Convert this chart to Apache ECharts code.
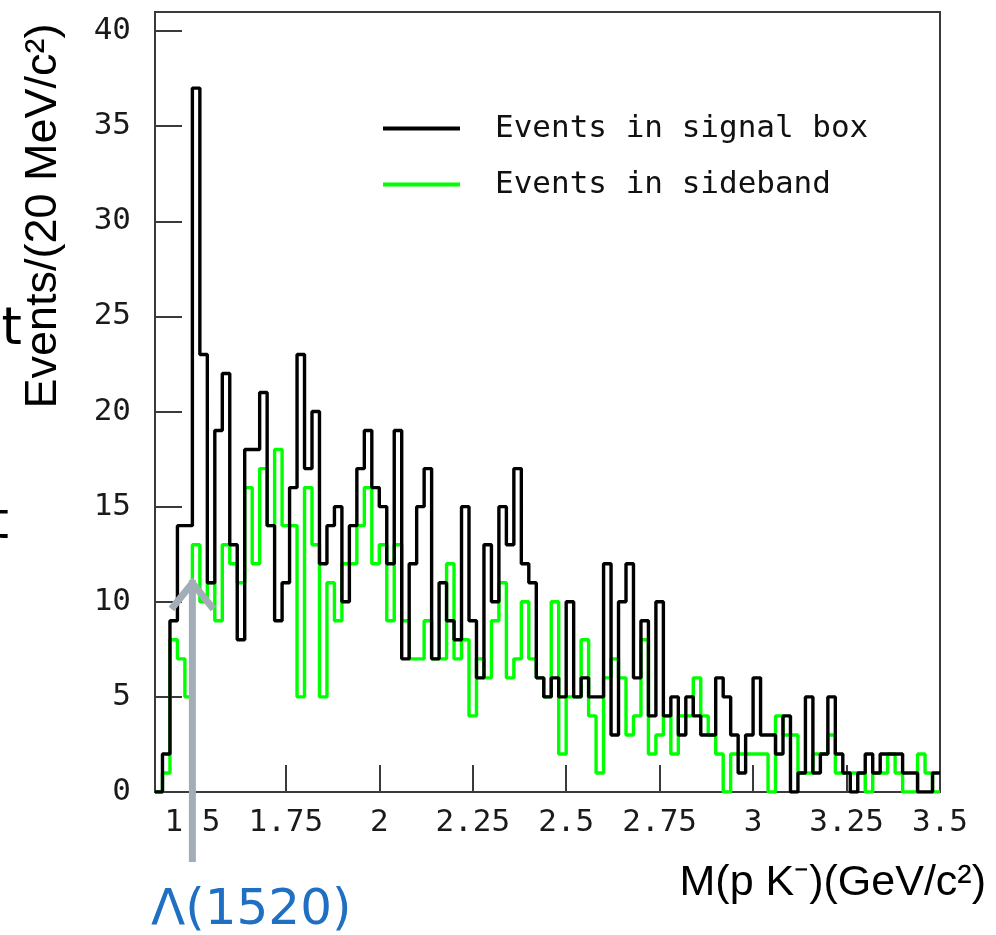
<!DOCTYPE html>
<html>
<head>
<meta charset="utf-8">
<script src="https://cdn.jsdelivr.net/npm/echarts@6/dist/echarts.min.js"></script>
<style>
  html, body { margin: 0; padding: 0; background: #ffffff; }
  #chart { width: 996px; height: 935px; }
</style>
</head>
<body>
<div id="chart"></div>
<script>
// M(pK-) histogram, 20 MeV bins from 1.40 to 3.50 GeV/c^2
const massLow = 1.40;
const massHigh = 3.50;
const binWidth = 0.02;

// Counts per bin, events in the signal box
const signalBox = [
  0, 2, 9, 14, 14, 37, 23, 11, 19, 22,
  13, 8, 18, 18, 21, 14, 9, 11, 16, 23,
  17, 20, 12, 14, 15, 10, 14, 17, 19, 16,
  15, 12, 19, 7, 12, 15, 17, 7, 11, 9,
  8, 15, 9, 6, 13, 10, 15, 13, 17, 12,
  11, 6, 5, 6, 5, 10, 5, 6, 5, 5,
  12, 3, 10, 12, 6, 9, 4, 10, 4, 5,
  3, 5, 4, 3, 3, 6, 5, 3, 1, 3,
  6, 3, 3, 2, 4, 0, 1, 5, 1, 2,
  5, 2, 1, 0, 1, 2, 1, 2, 2, 2,
  1, 1, 0, 0, 1
];

// Counts per bin, events in the sideband
const sideband = [
  0, 1, 8, 7, 5, 13, 10, 11, 9, 13,
  12, 11, 16, 12, 17, 14, 18, 14, 14, 5,
  16, 13, 5, 11, 9, 12, 12, 14, 16, 12,
  13, 9, 13, 9, 7, 7, 9, 7, 7, 12,
  7, 8, 4, 7, 6, 9, 11, 6, 7, 10,
  7, 6, 5, 10, 2, 5, 5, 8, 4, 1,
  6, 7, 6, 3, 4, 8, 2, 3, 4, 2,
  4, 4, 6, 4, 3, 2, 0, 2, 2, 2,
  2, 2, 0, 4, 3, 3, 1, 1, 2, 2,
  3, 1, 1, 1, 1, 0, 1, 1, 2, 1,
  0, 0, 2, 1, 0
];

const xTickValues = [1.5, 1.75, 2, 2.25, 2.5, 2.75, 3, 3.25, 3.5];
const yTickValues = [0, 5, 10, 15, 20, 25, 30, 35, 40];
const yMax = 41;

const seriesNames = ['Events in signal box', 'Events in sideband'];
const xTitle = 'M(p K\u207B)(GeV/c\u00B2)';
const yTitle = 'Events/(20 MeV/c\u00B2)';
const markerLabel = '\u039B(1520)';
const markerMass = 1.5;

// Turn bin counts into step-line vertices at the bin edges
function histogramSteps(counts) {
  const pts = counts.map((c, i) => [Math.round((massLow + i * binWidth) * 1000) / 1000, c]);
  pts.push([massHigh, counts[counts.length - 1]]);
  return pts;
}

const monoFont = "'DejaVu Sans Mono', 'Liberation Mono', monospace";
const sansFont = "'Liberation Sans', Arial, sans-serif";

const chart = echarts.init(document.getElementById('chart'), null, { renderer: 'canvas' });

const option = {
  animation: false,
  backgroundColor: '#ffffff',
  grid: {
    left: 155, right: 56, top: 12, bottom: 143,
    show: true, borderColor: '#3a3a3a', borderWidth: 2,
    backgroundColor: 'transparent'
  },
  legend: {
    left: 378, top: 108,
    orient: 'vertical',
    icon: 'rect',
    itemWidth: 77, itemHeight: 4,
    itemGap: 25,
    selectedMode: false,
    data: seriesNames,
    textStyle: {
      fontFamily: monoFont, fontSize: 31, color: '#111',
      padding: [0, 0, 0, 30]
    }
  },
  xAxis: {
    type: 'value',
    min: massLow, max: massHigh,
    splitLine: { show: false },
    axisLine: { show: true, onZero: false, lineStyle: { color: '#3a3a3a', width: 2 } },
    axisTick: {
      show: true, inside: true, length: 27,
      customValues: xTickValues,
      lineStyle: { color: '#3a3a3a', width: 2 }
    },
    axisLabel: {
      customValues: xTickValues,
      margin: 15,
      fontFamily: monoFont, fontSize: 31, color: '#1a1a1a',
      formatter: v => String(v)
    }
  },
  yAxis: {
    type: 'value',
    min: 0, max: yMax,
    splitLine: { show: false },
    axisLine: { show: true, lineStyle: { color: '#3a3a3a', width: 2 } },
    axisTick: {
      show: true, inside: true, length: 27,
      customValues: yTickValues,
      lineStyle: { color: '#3a3a3a', width: 2 }
    },
    axisLabel: {
      customValues: yTickValues,
      margin: 24,
      fontFamily: monoFont, fontSize: 31, color: '#1a1a1a'
    }
  },
  series: [
    {
      name: seriesNames[1],
      type: 'line',
      step: 'end',
      symbol: 'none',
      data: histogramSteps(sideband),
      lineStyle: { color: '#00ff00', width: 3.4 },
      itemStyle: { color: '#00ff00' },
      z: 2
    },
    {
      name: seriesNames[0],
      type: 'line',
      step: 'end',
      symbol: 'none',
      data: histogramSteps(signalBox),
      lineStyle: { color: '#000000', width: 3.4 },
      itemStyle: { color: '#000000' },
      z: 3
    }
  ]
};

chart.setOption(option);

// Axis titles, the Λ(1520) marker arrow and its label
const arrowX = chart.convertToPixel({ xAxisIndex: 0 }, markerMass);
const arrowColor = '#a3adb8';

chart.setOption({
  graphic: [
    {
      type: 'text',
      x: 44, y: 216,
      rotation: Math.PI / 2,
      style: {
        text: yTitle,
        fontFamily: sansFont, fontSize: 45, fill: '#000',
        align: 'center', verticalAlign: 'middle'
      }
    },
    {
      type: 'text',
      x: 986, y: 883,
      style: {
        text: xTitle,
        fontFamily: sansFont, fontSize: 43, fill: '#000',
        align: 'right', verticalAlign: 'middle'
      }
    },
    {
      type: 'line',
      shape: { x1: arrowX, y1: 862, x2: arrowX, y2: 580 },
      style: { stroke: arrowColor, lineWidth: 7 },
      z: 10
    },
    {
      type: 'polyline',
      shape: { points: [[arrowX - 21, 609], [arrowX, 583], [arrowX + 21, 609]] },
      style: { stroke: arrowColor, lineWidth: 7, fill: null, lineJoin: 'miter' },
      z: 10
    },
    {
      type: 'text',
      x: 151, y: 911,
      style: {
        text: markerLabel,
        fontFamily: "'DejaVu Sans', Verdana, sans-serif", fontSize: 50, fill: '#1f6fc2',
        align: 'left', verticalAlign: 'middle'
      }
    },
    {
      type: 'text',
      x: 22, y: 330,
      style: {
        text: 't',
        fontFamily: "'DejaVu Sans', Verdana, sans-serif", fontSize: 52, fill: '#000',
        align: 'right', verticalAlign: 'middle'
      }
    },
    {
      type: 'text',
      x: 9, y: 524,
      style: {
        text: 't',
        fontFamily: "'DejaVu Sans', Verdana, sans-serif", fontSize: 52, fill: '#000',
        align: 'right', verticalAlign: 'middle'
      }
    }
  ]
});
</script>
</body>
</html>
